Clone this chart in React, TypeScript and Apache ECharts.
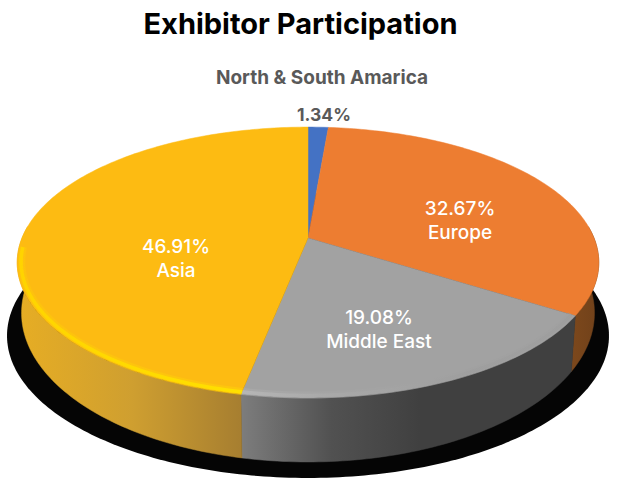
import React, { useEffect, useRef } from "react";
import * as echarts from "echarts";

const categories = ["North & South Amarica", "Europe", "Middle East", "Asia"];
const shares = [1.34, 32.67, 19.08, 46.91];
const shareLabels = ["1.34%", "32.67%", "19.08%", "46.91%"];

const faceColors = ["#4472C4", "#ED7D31", "#A2A2A2", "#FDBB12"];
const labelColors = ["#595959", "#FFFFFF", "#FFFFFF", "#FFFFFF"];
const labelAnchors = [[322, 77, 324, 114], [460, 232, 460, 208], [379, 341, 379, 317], [176, 270, 176, 246]];

const APEX_X = 308, APEX_Y = 238, RX = 286, RY = 131, K = 0.181;
const rad = (d: number) => (d * Math.PI) / 180;
const project = (deg: number, r = 1, sx = 1, sy = 1, dy = 0) => {
  const u = Math.sin(rad(deg)) * r, v = -Math.cos(rad(deg)) * r;
  const w = 1 - K * v;
  return [APEX_X + (RX * sx * u) / w, APEX_Y + dy + (RY * sy * v) / w];
};
const arc = (a: number, b: number, r = 1, sx = 1, sy = 1, dy = 0) => {
  const pts: number[][] = [];
  const n = Math.max(2, Math.ceil(Math.abs(b - a)));
  for (let i = 0; i <= n; i++) pts.push(project(a + ((b - a) * i) / n, r, sx, sy, dy));
  return pts;
};
const starts = shares.map((_, i) => shares.slice(0, i).reduce((s, x) => s + x, 0) * 3.6);
const ends = shares.map((_, i) => shares.slice(0, i + 1).reduce((s, x) => s + x, 0) * 3.6);
const grad = (x0: number, x1: number, stops: [number, string][]) =>
  new echarts.graphic.LinearGradient(x0, 0, x1, 0, stops.map(([offset, color]) => ({ offset, color })), true);

const wallFills: any[] = [
  null,
  grad(540, 600, [[0, "#8A4F1E"], [1, "#70411A"]]),
  grad(243, 420, [[0, "#7C7C7C"], [0.5, "#515151"], [1, "#404040"]]),
  grad(20, 243, [[0, "#E6AD24"], [0.5, "#CF9F30"], [1, "#A67E30"]]),
];
const rimStrokes: any[] = [
  null,
  null,
  grad(243, 470, [[0, "#B8B8B8"], [0.35, "#AAAAAA"], [1, "#9E9E9E"]]),
  grad(20, 243, [[0, "#FFD400"], [1, "#FFE000"]]),
];

const renderShadow = () => ({
  type: "polygon",
  shape: { points: arc(0, 360, 1, 1.035, 1.05, 72) },
  style: { fill: "#050505" },
});
const renderWall = (_: any, api: any) => {
  const i = api.value(0);
  if (!wallFills[i]) return null;
  const a = Math.max(starts[i], 85), b = Math.min(ends[i], 275);
  const top = arc(a, b);
  const bottom = arc(b, a, 1, 0.985, 1.1, 48);
  return { type: "polygon", shape: { points: [...top, ...bottom] }, style: { fill: wallFills[i], stroke: wallFills[i], lineWidth: 0.5 } };
};
const renderFace = (_: any, api: any) => {
  const i = api.value(0);
  const children: any[] = [
    {
      type: "polygon",
      shape: { points: [[APEX_X, APEX_Y], ...arc(starts[i], ends[i])] },
      style: { fill: faceColors[i], stroke: faceColors[i], lineWidth: 0.5 },
    },
  ];
  if (rimStrokes[i]) {
    const a = starts[i];
    const b = Math.min(ends[i], 266);
    children.push({
      type: "polyline",
      shape: { points: arc(a, b, 0.985) },
      style: { stroke: rimStrokes[i], lineWidth: 7, fill: "none", opacity: 0.3 },
    });
    children.push({
      type: "polyline",
      shape: { points: arc(a, b, 0.987) },
      style: { stroke: rimStrokes[i], lineWidth: 3.5, fill: "none", opacity: i === 3 ? 1 : 0.85 },
    });
  }
  return { type: "group", children };
};
const renderLabel = (_: any, api: any) => {
  const i = api.value(0);
  const [x1, y1, x2, y2] = labelAnchors[i];
  const strong = i === 0;
  const base = { fill: labelColors[i], align: "center", verticalAlign: "middle", fontFamily: "Inter, Roboto, sans-serif" };
  return {
    type: "group",
    children: [
      { type: "text", x: x1, y: y1, style: { ...base, text: categories[i], fontSize: strong ? 19 : 19, fontWeight: strong ? 700 : 500 } },
      { type: "text", x: x2, y: y2, style: { ...base, text: shareLabels[i], fontSize: strong ? 17.5 : 19, fontWeight: strong ? 700 : 500 } },
    ],
  };
};

export default function App() {
  const ref = useRef<HTMLDivElement>(null);
  useEffect(() => {
    const chart = echarts.init(ref.current!, undefined, { renderer: "svg" });
    const indexData = shares.map((v, i) => [i, v]);
    chart.setOption({
      animation: false,
      backgroundColor: "#FFFFFF",
      title: {
        text: "Exhibitor Participation",
        left: 295.5,
        top: 4,
        textAlign: "center",
        textStyle: { fontFamily: "Inter, Roboto, sans-serif", fontSize: 29, fontWeight: 700, color: "#000000" },
      },
      series: [
        { type: "custom", coordinateSystem: "none", silent: true, data: [[0]], renderItem: renderShadow, z: 1 },
        { type: "custom", coordinateSystem: "none", silent: true, data: indexData, renderItem: renderWall, z: 2 },
        { type: "custom", coordinateSystem: "none", silent: true, data: indexData, renderItem: renderFace, z: 3 },
        { type: "custom", coordinateSystem: "none", silent: true, data: indexData, renderItem: renderLabel, z: 4 },
      ],
    });
    return () => chart.dispose();
  }, []);
  return <div ref={ref} style={{ position: "fixed", left: 0, top: 0, width: 620, height: 488 }} />;
}
